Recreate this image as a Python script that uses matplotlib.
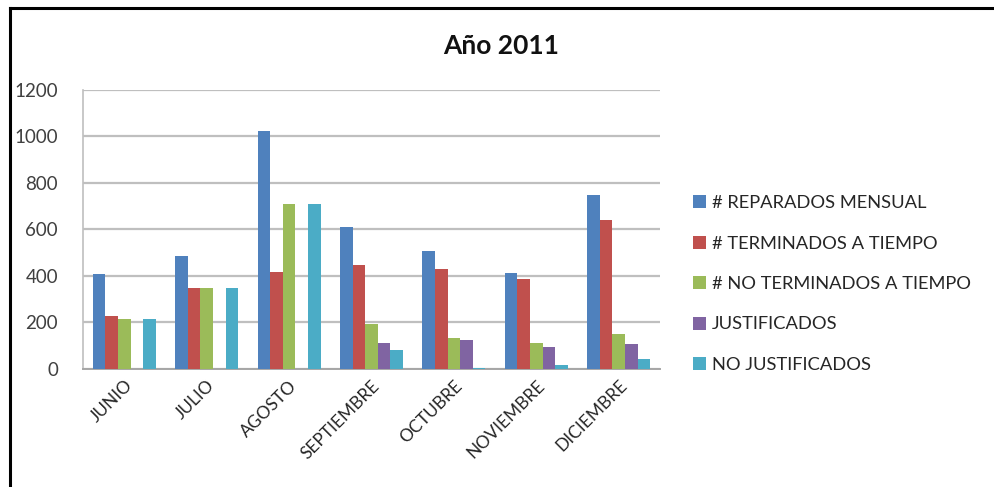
import matplotlib
matplotlib.use("Agg")
import matplotlib.pyplot as plt
import numpy as np
from matplotlib.patches import Patch
from matplotlib.lines import Line2D

plt.rcParams['font.family'] = ['Lato', 'DejaVu Sans']

months = ["JUNIO", "JULIO", "AGOSTO", "SEPTIEMBRE", "OCTUBRE", "NOVIEMBRE", "DICIEMBRE"]
series_names = ["# REPARADOS MENSUAL", "# TERMINADOS A TIEMPO", "# NO TERMINADOS A TIEMPO",
                "JUSTIFICADOS", "NO JUSTIFICADOS"]
reparados = [408, 487, 1025, 609, 508, 415, 747]
terminados = [227, 350, 416, 449, 429, 386, 642]
no_terminados = [217, 350, 708, 194, 132, 113, 151]
justificados = [0, 0, 0, 112, 123, 95, 108]
no_justificados = [217, 350, 708, 80, 5, 16, 43]
yticks = [0, 200, 400, 600, 800, 1000, 1200]

colors = ["#4F81BD", "#C0504D", "#9BBB59", "#8064A2", "#4BACC6"]
series = [reparados, terminados, no_terminados, justificados, no_justificados]

fig = plt.figure(figsize=(9.94, 4.87), dpi=100)
ax = fig.add_axes([0.0835, 0.2423, 0.5805, 0.5729])

x = np.arange(len(months))
w = 0.153
for i, (vals, c) in enumerate(zip(series, colors)):
    ax.bar(x + (i - 2) * w, vals, width=w, color=c, edgecolor='none', zorder=3)

ax.set_xlim(-0.5, len(months) - 0.5)
ax.set_ylim(0, 1200)
ax.set_yticks(yticks)
ax.set_yticklabels([str(v) for v in yticks], fontsize=13.5, color='#404040')
ax.yaxis.grid(True, color='#BFBFBF', linewidth=1.6, zorder=0)
ax.tick_params(axis='y', length=0, pad=18)
ax.tick_params(axis='x', length=0, pad=6)
ax.set_xticks(x)
ax.set_xticklabels(months, rotation=45, ha='right', rotation_mode='anchor',
                   fontsize=12.5, color='#262626')
for s in ['top', 'right']:
    ax.spines[s].set_visible(False)
ax.spines['left'].set_color('#BFBFBF')
ax.spines['left'].set_linewidth(1.2)
ax.spines['bottom'].set_color('#A6A6A6')
ax.spines['bottom'].set_linewidth(1.4)

fig.text(0.504, 0.905, "Año 2011", ha='center', va='center', fontsize=19,
         fontweight='bold', color='#111111')

handles = [Patch(facecolor=c, edgecolor='none') for c in colors]
fig.legend(handles, series_names, loc='upper left', bbox_to_anchor=(0.690, 0.614),
           frameon=False, fontsize=13.2, handlelength=0.72, handleheight=0.72,
           handletextpad=0.3, labelspacing=1.33, labelcolor='#262626', borderaxespad=0)

# frame lines around the chart area
fig.add_artist(Line2D([0.0101, 1.0], [0.984, 0.984], transform=fig.transFigure,
                      color='black', linewidth=2.2))
fig.add_artist(Line2D([0.0101, 0.0101], [0.0, 0.984], transform=fig.transFigure,
                      color='black', linewidth=2.2))

fig.savefig("out.png", dpi=100, facecolor='white')
